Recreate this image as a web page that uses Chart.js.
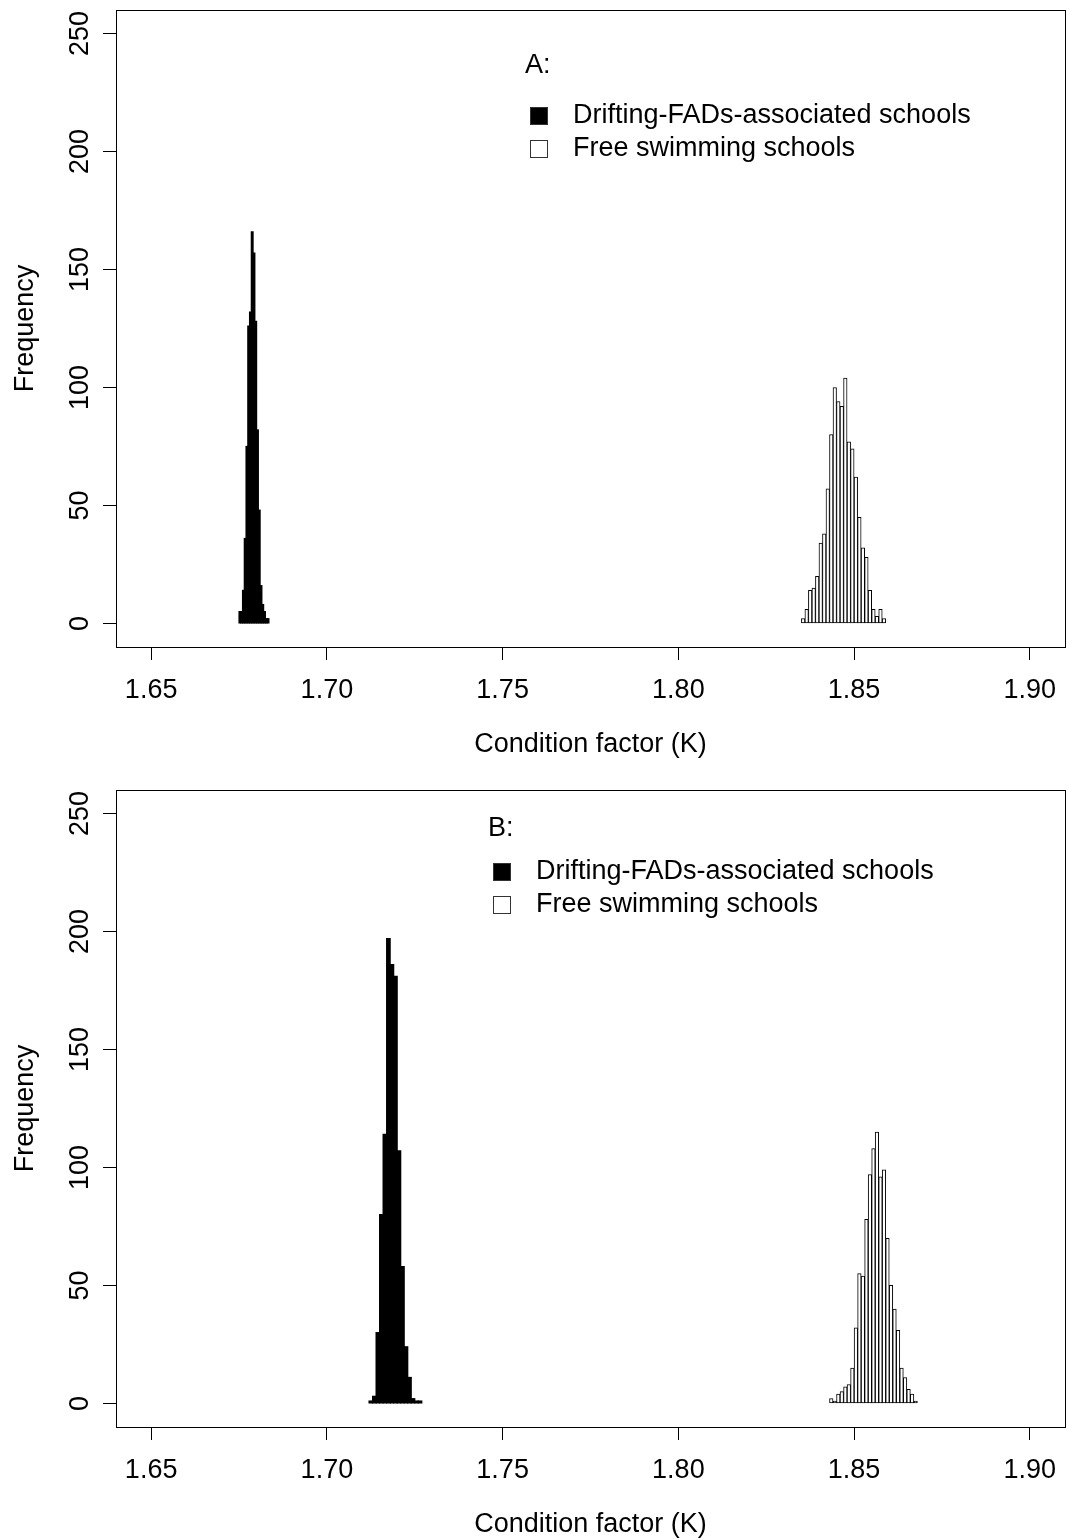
<!DOCTYPE html>
<html lang="en">
<head>
  <meta charset="utf-8">
  <title>Condition factor (K) histograms</title>
  <script src="https://cdn.jsdelivr.net/npm/chart.js@4.4.1/dist/chart.umd.min.js"></script>
  <style>
    html, body { margin: 0; padding: 0; background: #fff; overflow: hidden; }
    .page { width: 1067px; height: 1540px; overflow: hidden; }
    canvas { display: block; }
  </style>
</head>
<body>
  <div class="page">
    <canvas id="chart-a" width="1067" height="780"></canvas>
    <canvas id="chart-b" width="1067" height="780"></canvas>
  </div>

  <script>
    const xTicks = [1.65, 1.70, 1.75, 1.80, 1.85, 1.90];
    const xTickLabels = ['1.65', '1.70', '1.75', '1.80', '1.85', '1.90'];
    const yTicks = [0, 50, 100, 150, 200, 250];
    const seriesLabels = ['Drifting-FADs-associated schools', 'Free swimming schools'];

    // panel A - bin centres and counts
    const aFadBins = [1.67525, 1.67575, 1.67625, 1.67675, 1.67725, 1.67775, 1.67825, 1.67875, 1.67925,
                      1.67975, 1.68025, 1.68075, 1.68125, 1.68175, 1.68225, 1.68275, 1.68325];
    const aFadCounts = [5, 5, 14, 36, 75, 126, 132, 166, 157, 128, 82, 48, 16, 8, 5, 2, 2];
    const aFreeBins = [1.8355, 1.8365, 1.8375, 1.8385, 1.8395, 1.8405, 1.8415, 1.8425, 1.8435, 1.8445, 1.8455, 1.8465,
                       1.8475, 1.8485, 1.8495, 1.8505, 1.8515, 1.8525, 1.8535, 1.8545, 1.8555, 1.8565, 1.8575, 1.8585];
    const aFreeCounts = [2, 6, 14, 15, 20, 34, 38, 57, 80, 100, 94, 92, 104, 77, 74, 62, 45, 32, 28, 14, 6, 3, 6, 2];

    // panel B
    const bFadBins = [1.7125, 1.7135, 1.7145, 1.7155, 1.7165, 1.7175, 1.7185, 1.7195,
                      1.7205, 1.7215, 1.7225, 1.7235, 1.7245, 1.7255, 1.7265];
    const bFadCounts = [1, 3, 30, 80, 114, 197, 186, 181, 107, 58, 24, 11, 2, 1, 1];
    const bFreeBins = [1.8435, 1.8445, 1.8455, 1.8465, 1.8475, 1.8485, 1.8495, 1.8505, 1.8515, 1.8525, 1.8535, 1.8545, 1.8555,
                       1.8565, 1.8575, 1.8585, 1.8595, 1.8605, 1.8615, 1.8625, 1.8635, 1.8645, 1.8655, 1.8665, 1.8675];
    const bFreeCounts = [2, 1, 4, 5, 7, 8, 15, 32, 55, 54, 78, 97, 108, 115, 96, 99, 70, 50, 40, 31, 15, 11, 6, 4, 1];

    const FONT = "Arial, 'Liberation Sans', sans-serif";
    Chart.defaults.font.family = FONT;
    Chart.defaults.color = '#000';

    // box round the plot + the legend block, R style
    const panelFrame = {
      id: 'panelFrame',
      afterDraw(chart, args, o) {
        const {ctx, chartArea: a} = chart;
        ctx.save();
        ctx.strokeStyle = '#000';
        ctx.lineWidth = 1;
        ctx.strokeRect(Math.round(a.left) + 0.5, Math.round(a.top) + 0.5,
                       Math.round(a.right - a.left), Math.round(a.bottom - a.top));

        ctx.font = '27px ' + FONT;
        ctx.textBaseline = 'middle';
        ctx.textAlign = 'left';
        ctx.fillStyle = '#000';
        ctx.fillText(o.title, o.titleX, o.titleY);
        chart.data.datasets.forEach(function(ds, i) {
          let cy = o.rowY + i * o.rowH;
          ctx.fillStyle = ds.backgroundColor;
          ctx.fillRect(o.boxX, cy - 9, 18, 18);
          ctx.strokeStyle = '#333';
          ctx.strokeRect(o.boxX + 0.5, cy - 8.5, 17, 17);
          ctx.fillStyle = '#000';
          ctx.fillText(ds.label, o.textX, cy);
        });
        ctx.restore();
      }
    };

    function toPoints(bins, counts) {
      return bins.map(function(x, i) { return {x: x, y: counts[i]}; });
    }

    function makePanel(id, fadBins, fadCounts, freeBins, freeCounts, legendOpts) {
      return new Chart(id, {
        type: 'bar',
        data: {
          datasets: [
            {
              label: seriesLabels[0],
              data: toPoints(fadBins, fadCounts),
              xAxisID: 'xFad',
              backgroundColor: '#000',
              borderWidth: 0,
              inflateAmount: 0.6,   // solid black, no seams between bins
              grouped: false,
              barPercentage: 1,
              categoryPercentage: 1
            },
            {
              label: seriesLabels[1],
              data: toPoints(freeBins, freeCounts),
              xAxisID: 'x',
              backgroundColor: '#fff',
              borderColor: '#000',
              borderWidth: 1,
              borderSkipped: false,
              grouped: false,
              barPercentage: 1,
              categoryPercentage: 1
            }
          ]
        },
        options: {
          responsive: false,
          animation: false,
          layout: {padding: {top: 10, right: 2, left: 0, bottom: 0}},
          plugins: {
            legend: {display: false},
            tooltip: {enabled: false},
            panelFrame: legendOpts
          },
          scales: {
            x: {
              type: 'linear',
              position: 'bottom',
              min: 1.64,
              max: 1.91,
              offset: false,
              afterBuildTicks: function(s) { s.ticks = xTicks.map(function(v) { return {value: v}; }); },
              afterFit: function(s) { s.height = 133; s.paddingLeft = 0; s.paddingRight = 0; },
              grid: {display: true, drawOnChartArea: false, drawTicks: true, tickLength: 13,
                     tickColor: '#000', tickWidth: 1, offset: false},
              border: {display: false},
              ticks: {
                font: {size: 27},
                color: '#000',
                padding: 14,
                maxRotation: 0,
                autoSkip: false,
                callback: function(v, i) { return xTickLabels[i]; }
              },
              title: {display: true, text: 'Condition factor (K)', font: {size: 27}, color: '#000',
                      padding: {top: 0, bottom: 19}}
            },
            xFad: {
              type: 'linear',
              position: 'bottom',
              display: false,
              min: 1.64,
              max: 1.91,
              offset: false,
              grid: {offset: false}
            },
            y: {
              type: 'linear',
              min: -10,
              max: 260,
              afterBuildTicks: function(s) { s.ticks = yTicks.map(function(v) { return {value: v}; }); },
              afterFit: function(s) { s.width = 116; s.paddingTop = 0; s.paddingBottom = 0; },
              grid: {display: true, drawOnChartArea: false, drawTicks: true, tickLength: 13,
                     tickColor: '#000', tickWidth: 1},
              border: {display: false},
              ticks: {
                font: {size: 27},
                color: '#000',
                padding: 0,
                minRotation: 90,
                maxRotation: 90,
                crossAlign: 'center',
                autoSkip: false
              },
              title: {display: true, text: 'Frequency', font: {size: 27}, color: '#000',
                      padding: {top: 9, bottom: 0}}
            }
          }
        },
        plugins: [panelFrame]
      });
    }

    makePanel('chart-a', aFadBins, aFadCounts, aFreeBins, aFreeCounts,
      {title: 'A:', titleX: 525, titleY: 66, boxX: 530, textX: 573, rowY: 116, rowH: 33});
    makePanel('chart-b', bFadBins, bFadCounts, bFreeBins, bFreeCounts,
      {title: 'B:', titleX: 488, titleY: 49, boxX: 493, textX: 536, rowY: 92, rowH: 33});
  </script>
</body>
</html>
